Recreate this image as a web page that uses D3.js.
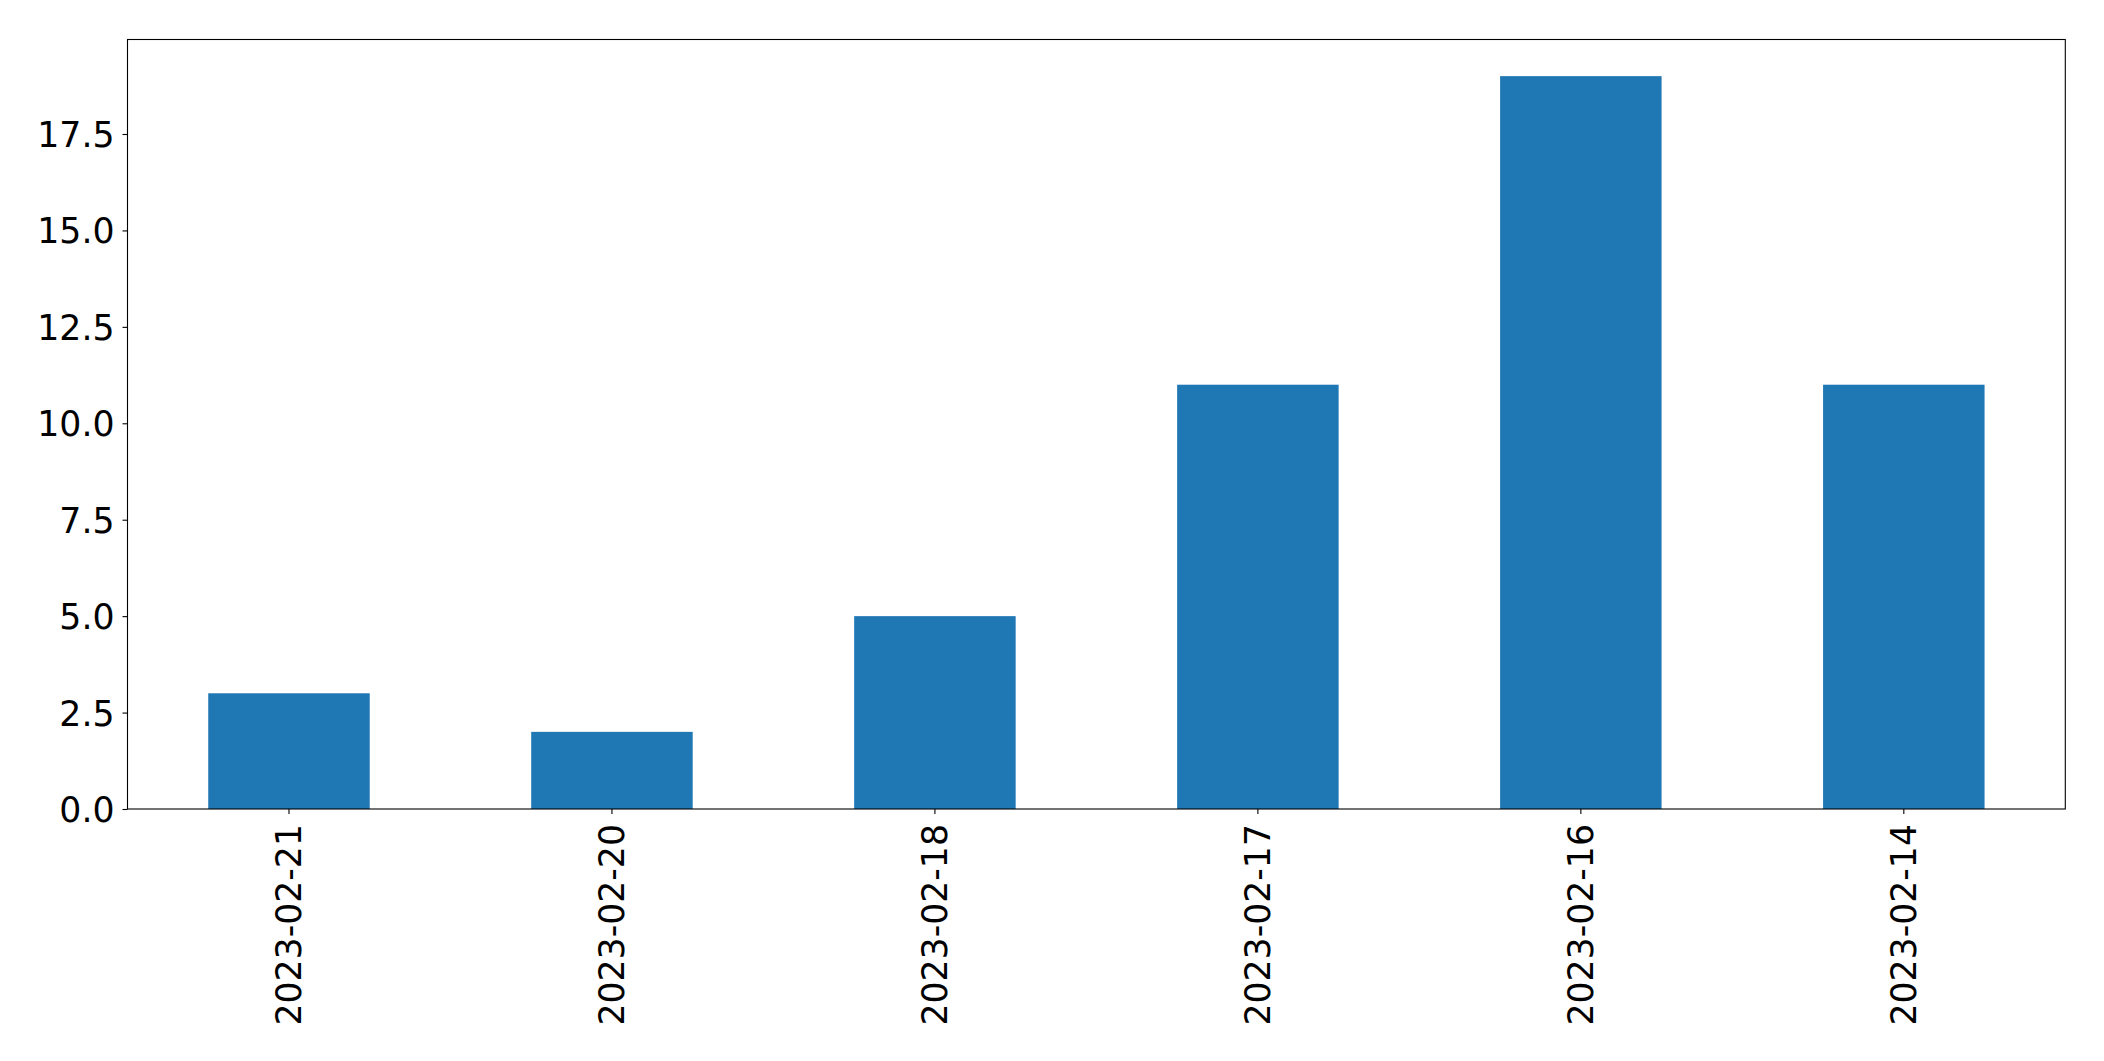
<!DOCTYPE html>
<html>
<head>
<meta charset="utf-8">
<script src="https://cdn.jsdelivr.net/npm/d3@7"></script>
<style>
  html, body { margin: 0; padding: 0; background: #ffffff; }
  svg { display: block; }
  text { font-family: "DejaVu Sans", sans-serif; }
</style>
</head>
<body>
<script>
const categories = ["2023-02-21", "2023-02-20", "2023-02-18", "2023-02-17", "2023-02-16", "2023-02-14"];
const values = [3, 2, 5, 11, 19, 11];
const yTicks = [0, 2.5, 5, 7.5, 10, 12.5, 15, 17.5];

const W = 2104, H = 1061;
const mLeft = 127.5, mRight = 2065.3, mTop = 39.5, mBottom = 809;
const fontPx = 34.7;

const svg = d3.select("body").append("svg").attr("width", W).attr("height", H);

const x = d3.scaleBand().domain(categories).range([mLeft, mRight]).paddingInner(0.5).paddingOuter(0.25);
const y = d3.scaleLinear().domain([0, d3.max(values) * 1.05]).range([mBottom, mTop]);

svg.append("g").selectAll("rect").data(values).join("rect")
  .attr("x", (d, i) => x(categories[i]))
  .attr("width", x.bandwidth())
  .attr("y", d => y(d))
  .attr("height", d => y(0) - y(d))
  .attr("fill", "#1f77b4");

// y axis
const yAxis = svg.append("g").attr("transform", `translate(${mLeft},0)`)
  .call(d3.axisLeft(y).tickValues(yTicks).tickFormat(d3.format(".1f")).tickSizeOuter(0).tickSize(5).tickPadding(8));
yAxis.select(".domain").remove();
yAxis.selectAll("line").attr("stroke", "#000").attr("stroke-width", 1.1);
yAxis.selectAll("text").attr("font-size", fontPx).attr("fill", "#000").attr("font-family", "DejaVu Sans").attr("dy", "0.36em");

// x axis
const xAxis = svg.append("g").attr("transform", `translate(0,${mBottom})`)
  .call(d3.axisBottom(x).tickSizeOuter(0).tickSize(5).tickPadding(0));
xAxis.select(".domain").remove();
xAxis.selectAll("line").attr("stroke", "#000").attr("stroke-width", 1.1);
xAxis.selectAll("text")
  .attr("font-size", fontPx).attr("fill", "#000").attr("font-family", "DejaVu Sans")
  .attr("text-anchor", "end")
  .attr("y", 0)
  .attr("dy", "0.36em")
  .attr("transform", "translate(0,15) rotate(-90)");

// frame
svg.append("rect")
  .attr("x", mLeft).attr("y", mTop)
  .attr("width", mRight - mLeft).attr("height", mBottom - mTop)
  .attr("fill", "none").attr("stroke", "#000").attr("stroke-width", 1.1);
</script>
</body>
</html>
